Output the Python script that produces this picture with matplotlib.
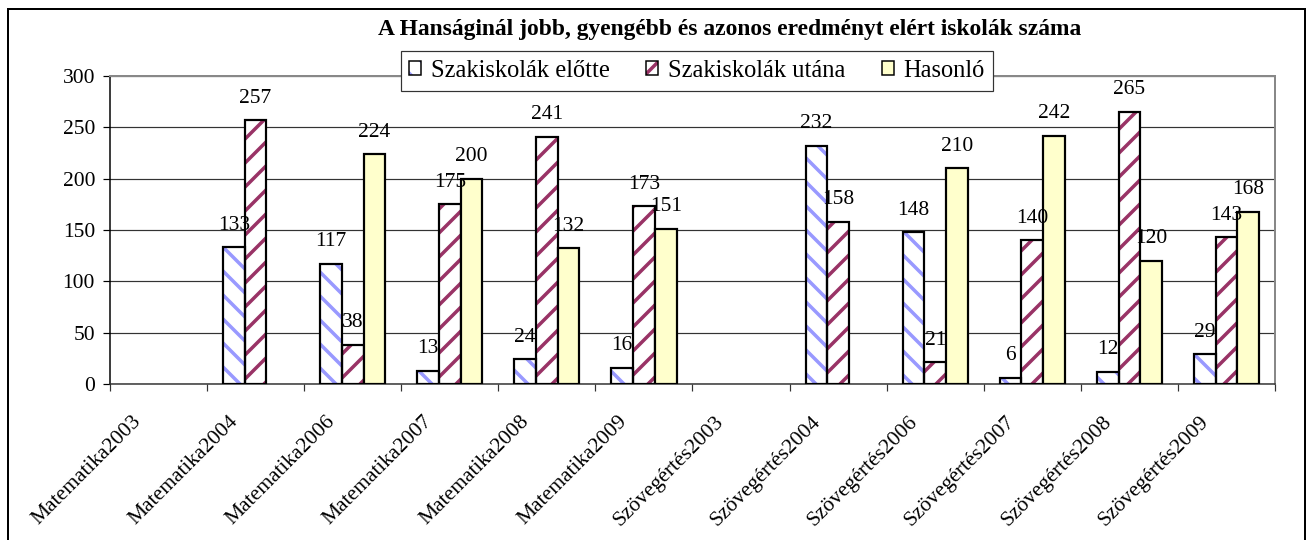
import numpy as np
import matplotlib
matplotlib.use('Agg')
import matplotlib.pyplot as plt
from matplotlib.patches import Patch, Rectangle
from matplotlib.legend_handler import HandlerTuple
from matplotlib.transforms import ScaledTranslation

categories = ['Matematika2003', 'Matematika2004', 'Matematika2006', 'Matematika2007',
              'Matematika2008', 'Matematika2009', 'Szövegértés2003', 'Szövegértés2004',
              'Szövegértés2006', 'Szövegértés2007', 'Szövegértés2008', 'Szövegértés2009']
elotte = [np.nan, 133, 117, 13, 24, 16, np.nan, 232, 148, 6, 12, 29]
utana = [np.nan, 257, 38, 175, 241, 173, np.nan, 158, 21, 140, 265, 143]
hasonlo = [np.nan, np.nan, 224, 200, 132, 151, np.nan, np.nan, 210, 242, 120, 168]
series_names = ['Szakiskolák előtte', 'Szakiskolák utána', 'Hasonló']
title = 'A Hanságinál jobb, gyengébb és azonos eredményt elért iskolák száma'

plt.rcParams['font.family'] = ['Liberation Serif', 'DejaVu Serif']
plt.rcParams['hatch.linewidth'] = 3.5

# dpi 72: 1 pt = 1 px
fig = plt.figure(figsize=(1310 / 72, 540 / 72), dpi=72)
ax = fig.add_axes([110 / 1310, 1 - 384 / 540, (1275 - 110) / 1310, (384 - 76) / 540])

x = np.arange(len(categories))
w = 0.224
styles = [('white', '#9999FF', '\\'), ('white', '#993366', '/'), ('#FFFFCC', None, None)]
handles = []
for i, (vals, (fc, hc, hatch)) in enumerate(zip([elotte, utana, hasonlo], styles)):
    pos = x + (i - 1) * w
    v = np.array(vals, dtype=float)
    if hatch:
        ax.bar(pos, v, w, color=fc, edgecolor=hc, hatch=hatch, linewidth=0, zorder=2)
    ax.bar(pos, v, w, facecolor='none' if hatch else fc, edgecolor='black', linewidth=2.2, zorder=3)
    for xp, val in zip(pos, v):
        if not np.isnan(val):
            ax.annotate(f'{int(val)}', (xp, val), xytext=(0, 22), textcoords='offset points',
                        ha='center', va='center', fontsize=21.5, zorder=4)
    if hatch:
        h = (Patch(facecolor=fc, edgecolor=hc, hatch=hatch, linewidth=0),
             Patch(facecolor='none', edgecolor='black', linewidth=1.5))
    else:
        h = Patch(facecolor=fc, edgecolor='black', linewidth=1.5)
    handles.append(h)

ax.set_ylim(0, 300)
ax.set_xlim(-0.5, len(categories) - 0.5)
ax.set_yticks(range(0, 301, 50))
ax.set_yticklabels([str(t) for t in range(0, 301, 50)], fontsize=21.5)
ax.yaxis.grid(True, color='#333333', linewidth=1.2, zorder=0)
ax.set_axisbelow(True)
ax.tick_params(axis='y', length=7, width=1.2, pad=8, color='black')

ax.set_xticks(x)
ax.set_xticklabels(categories, fontsize=21.5, rotation=45, ha='right', va='center',
                   rotation_mode='anchor')
ax.set_xticks(np.arange(-0.5, len(categories), 1), minor=True)
ax.tick_params(axis='x', which='major', length=0, pad=35)
ax.tick_params(axis='x', which='minor', length=7, width=1.2, color='#333333')
off = ScaledTranslation(-20 / 72, 0, fig.dpi_scale_trans)
for lab in ax.get_xticklabels():
    lab.set_transform(lab.get_transform() + off)

ax.spines['left'].set_color('black')
ax.spines['left'].set_linewidth(1.5)
ax.spines['bottom'].set_color('#333333')
ax.spines['bottom'].set_linewidth(1.5)
ax.spines['top'].set_color('#888888')
ax.spines['top'].set_linewidth(2)
ax.spines['right'].set_color('#888888')
ax.spines['right'].set_linewidth(2)

fig.text(0.557, 1 - 30 / 540, title, ha='center', va='center', fontsize=23.5, fontweight='bold')

leg = fig.legend(handles, series_names, loc='center', bbox_to_anchor=(0.532, 1 - 71 / 540),
                 ncol=3, fontsize=24.5, frameon=True, fancybox=False, framealpha=1,
                 edgecolor='#333333', handlelength=0.48, handleheight=0.48, handletextpad=0.4,
                 columnspacing=1.5, borderpad=0.35,
                 handler_map={tuple: HandlerTuple(ndivide=1, pad=0)})
leg.get_frame().set_linewidth(1.2)

fig.patches.append(Rectangle((8 / 1310, -0.05), (1305 - 8) / 1310, 1.05 - 9 / 540,
                             transform=fig.transFigure, fill=False, edgecolor='black',
                             linewidth=2, clip_on=False))

fig.savefig('out.png', dpi=72)
